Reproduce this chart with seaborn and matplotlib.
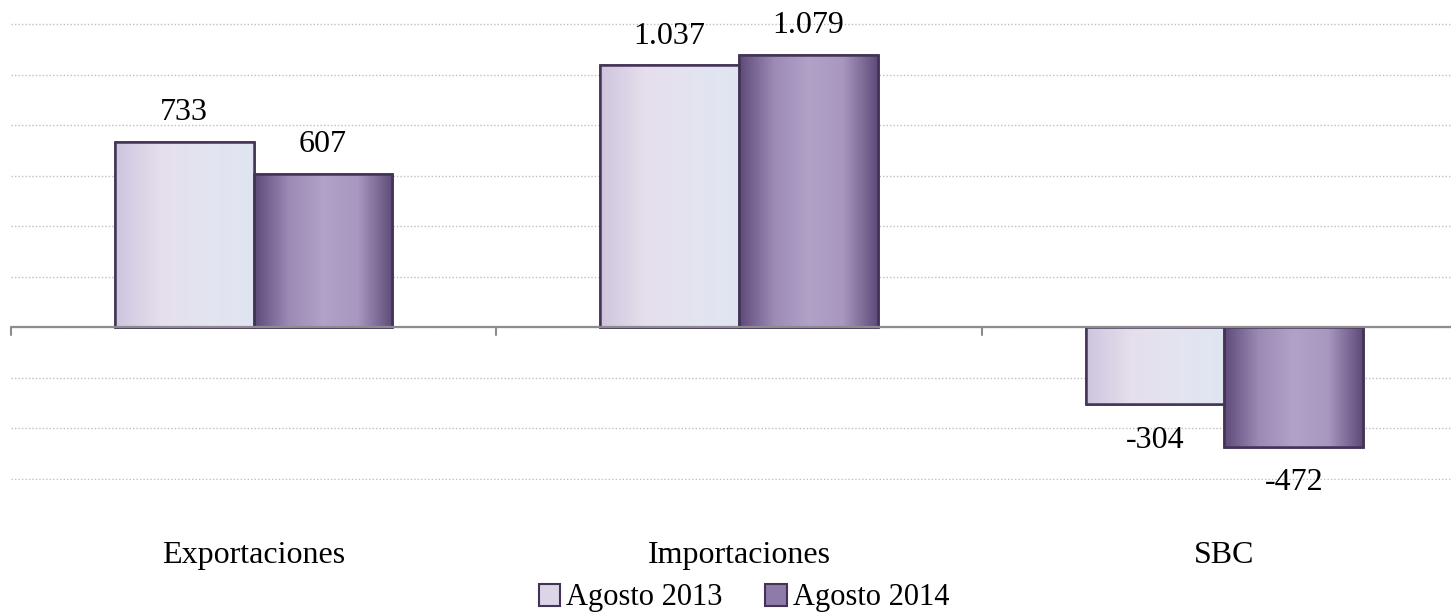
import numpy as np
import pandas as pd
import seaborn as sns
import matplotlib
matplotlib.use("Agg")
import matplotlib.pyplot as plt
from matplotlib.colors import LinearSegmentedColormap
from matplotlib.patches import Patch, Rectangle

categories = ["Exportaciones", "Importaciones", "SBC"]
series_names = ["Agosto 2013", "Agosto 2014"]
values_2013 = [733, 1037, -304]
values_2014 = [607, 1079, -472]
labels_2013 = ["733", "1.037", "-304"]
labels_2014 = ["607", "1.079", "-472"]

df = pd.DataFrame({
    "cat": categories * 2,
    "serie": [series_names[0]] * 3 + [series_names[1]] * 3,
    "val": values_2013 + values_2014,
    "lab": labels_2013 + labels_2014,
})

sns.set_style("white")
plt.rcParams["font.family"] = ["Liberation Serif", "DejaVu Serif"]
plt.rcParams["text.color"] = "black"

W, H = 1451, 615
fig = plt.figure(figsize=(W / 100, H / 100), dpi=100)
# axes: left 11px, right ~1467px (beyond image), top 24px, bottom 479px
ax = fig.add_axes([11 / W, 1 - 480 / H, (1467 - 11) / W, (480 - 23) / H])

light = "#DCD5E8"
dark = "#8F7BAA"
edge = "#433356"
sns.barplot(data=df, x="cat", y="val", hue="serie", order=categories,
            hue_order=series_names, palette=[light, dark], width=0.572,
            edgecolor=edge, linewidth=1.8, ax=ax, legend=False, saturation=1)

cmap_light = LinearSegmentedColormap.from_list(
    "l", ["#CEC5DE", "#E6DFEC", "#E3E4F0", "#DFE6F1"])
cmap_dark = LinearSegmentedColormap.from_list(
    "d", ["#5E4A79", "#9C8AB5", "#B1A2C8", "#A897BF", "#5F4B7A"])
grad = np.linspace(0, 1, 256).reshape(1, -1)

n = len(categories)
bars = list(ax.patches[:2 * n])
for i, p in enumerate(bars):
    x0 = p.get_x()
    w = p.get_width()
    y0 = p.get_y()
    h = p.get_height()
    cm = cmap_light if i < n else cmap_dark
    im = ax.imshow(grad, cmap=cm, aspect="auto",
                   extent=[x0, x0 + w, min(y0, y0 + h), max(y0, y0 + h)],
                   zorder=p.get_zorder() + 0.1, interpolation="bicubic")
    im.set_clip_path(p)
    ax.add_patch(Rectangle((x0, y0), w, h, fill=False, edgecolor=edge,
                           linewidth=1.8, zorder=p.get_zorder() + 0.2))
ax.set_xlim(-0.5, 2.5)
ax.set_ylim(-604, 1204)

# value labels
for i, p in enumerate(bars):
    v = df["val"].iloc[i]
    lab = df["lab"].iloc[i]
    xc = p.get_x() + p.get_width() / 2
    if v >= 0:
        ax.text(xc, v + 115, lab, ha="center", va="center", fontsize=23)
    else:
        ax.text(xc, v - 142, lab, ha="center", va="center", fontsize=23)

# grid
ax.set_yticks(np.arange(-600, 1201, 200))
ax.set_yticklabels([])
ax.tick_params(axis="y", length=0)
ax.yaxis.grid(True, linestyle=(0, (1, 1.5)), color="#BFBFBF", linewidth=1)
ax.set_axisbelow(True)
for s in ax.spines.values():
    s.set_visible(False)
ax.axhline(0, color="#8C8C8C", linewidth=1.6, zorder=5)

ax.set_xticks(range(n))
ax.set_xticklabels([])
ax.tick_params(axis="x", length=0)
for i, c in enumerate(categories):
    ax.text(i, -902, c, ha="center", va="center", fontsize=23, clip_on=False)
ax.set_xlabel("")
ax.set_ylabel("")

for xb in [-0.5, 0.5, 1.5, 2.5]:
    ax.plot([xb, xb], [0, -32], color="#8C8C8C", linewidth=1.5, zorder=5,
            clip_on=False)

handles = [Patch(facecolor=light, edgecolor=edge, linewidth=1.5),
           Patch(facecolor=dark, edgecolor=edge, linewidth=1.5)]
fig.legend(handles, series_names, loc="center", bbox_to_anchor=(744 / W, 1 - 598 / H),
           ncol=2, frameon=False, fontsize=22, handlelength=0.7, handleheight=0.7,
           handletextpad=0.2, columnspacing=1.4)

fig.savefig("out.png", dpi=100)
